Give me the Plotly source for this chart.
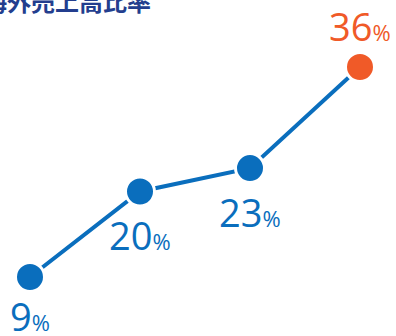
import plotly.graph_objects as go

categories = ["A", "B", "C", "D"]
values = [9, 20, 23, 36]
labels = ["9", "20", "23", "36"]
point_colors = ["#0A6EBD", "#0A6EBD", "#0A6EBD", "#F05A28"]
label_shift = [-39, -44, -44, 41]
title_text = "海外売上高比率"

xs = list(range(len(values)))

fig = go.Figure()
fig.add_trace(go.Scatter(
    x=xs, y=values, mode="lines+markers",
    line=dict(color="#0A6EBD", width=4),
    marker=dict(size=29, color=point_colors, line=dict(color="white", width=3)),
    hoverinfo="skip", cliponaxis=False,
))

for x, v, lab, c, s in zip(xs, values, labels, point_colors, label_shift):
    fig.add_annotation(
        x=x, y=v, xref="x", yref="y", yshift=s, showarrow=False,
        text=f"{lab}<span style='font-size:22px'>%</span>",
        font=dict(family="Open Sans", size=38, color=c, weight=500),
        xanchor="center", yanchor="middle",
    )

fig.add_annotation(
    x=-19 / 396, y=1 - 0.5 / 336, xref="paper", yref="paper", showarrow=False,
    text=f"<b>{title_text}</b>", xanchor="left", yanchor="middle",
    font=dict(family="Noto Sans CJK JP", size=24, color="#233E8E"),
)

fig.update_layout(
    width=396, height=336, margin=dict(l=0, r=0, t=0, b=0),
    paper_bgcolor="white", plot_bgcolor="white", showlegend=False,
    xaxis=dict(range=[-30 / 110, 3 + 36 / 110], visible=False),
    yaxis=dict(range=[9 - 59 / 7.778, 36 + 67 / 7.778], visible=False),
)
fig.write_html("out.html")
